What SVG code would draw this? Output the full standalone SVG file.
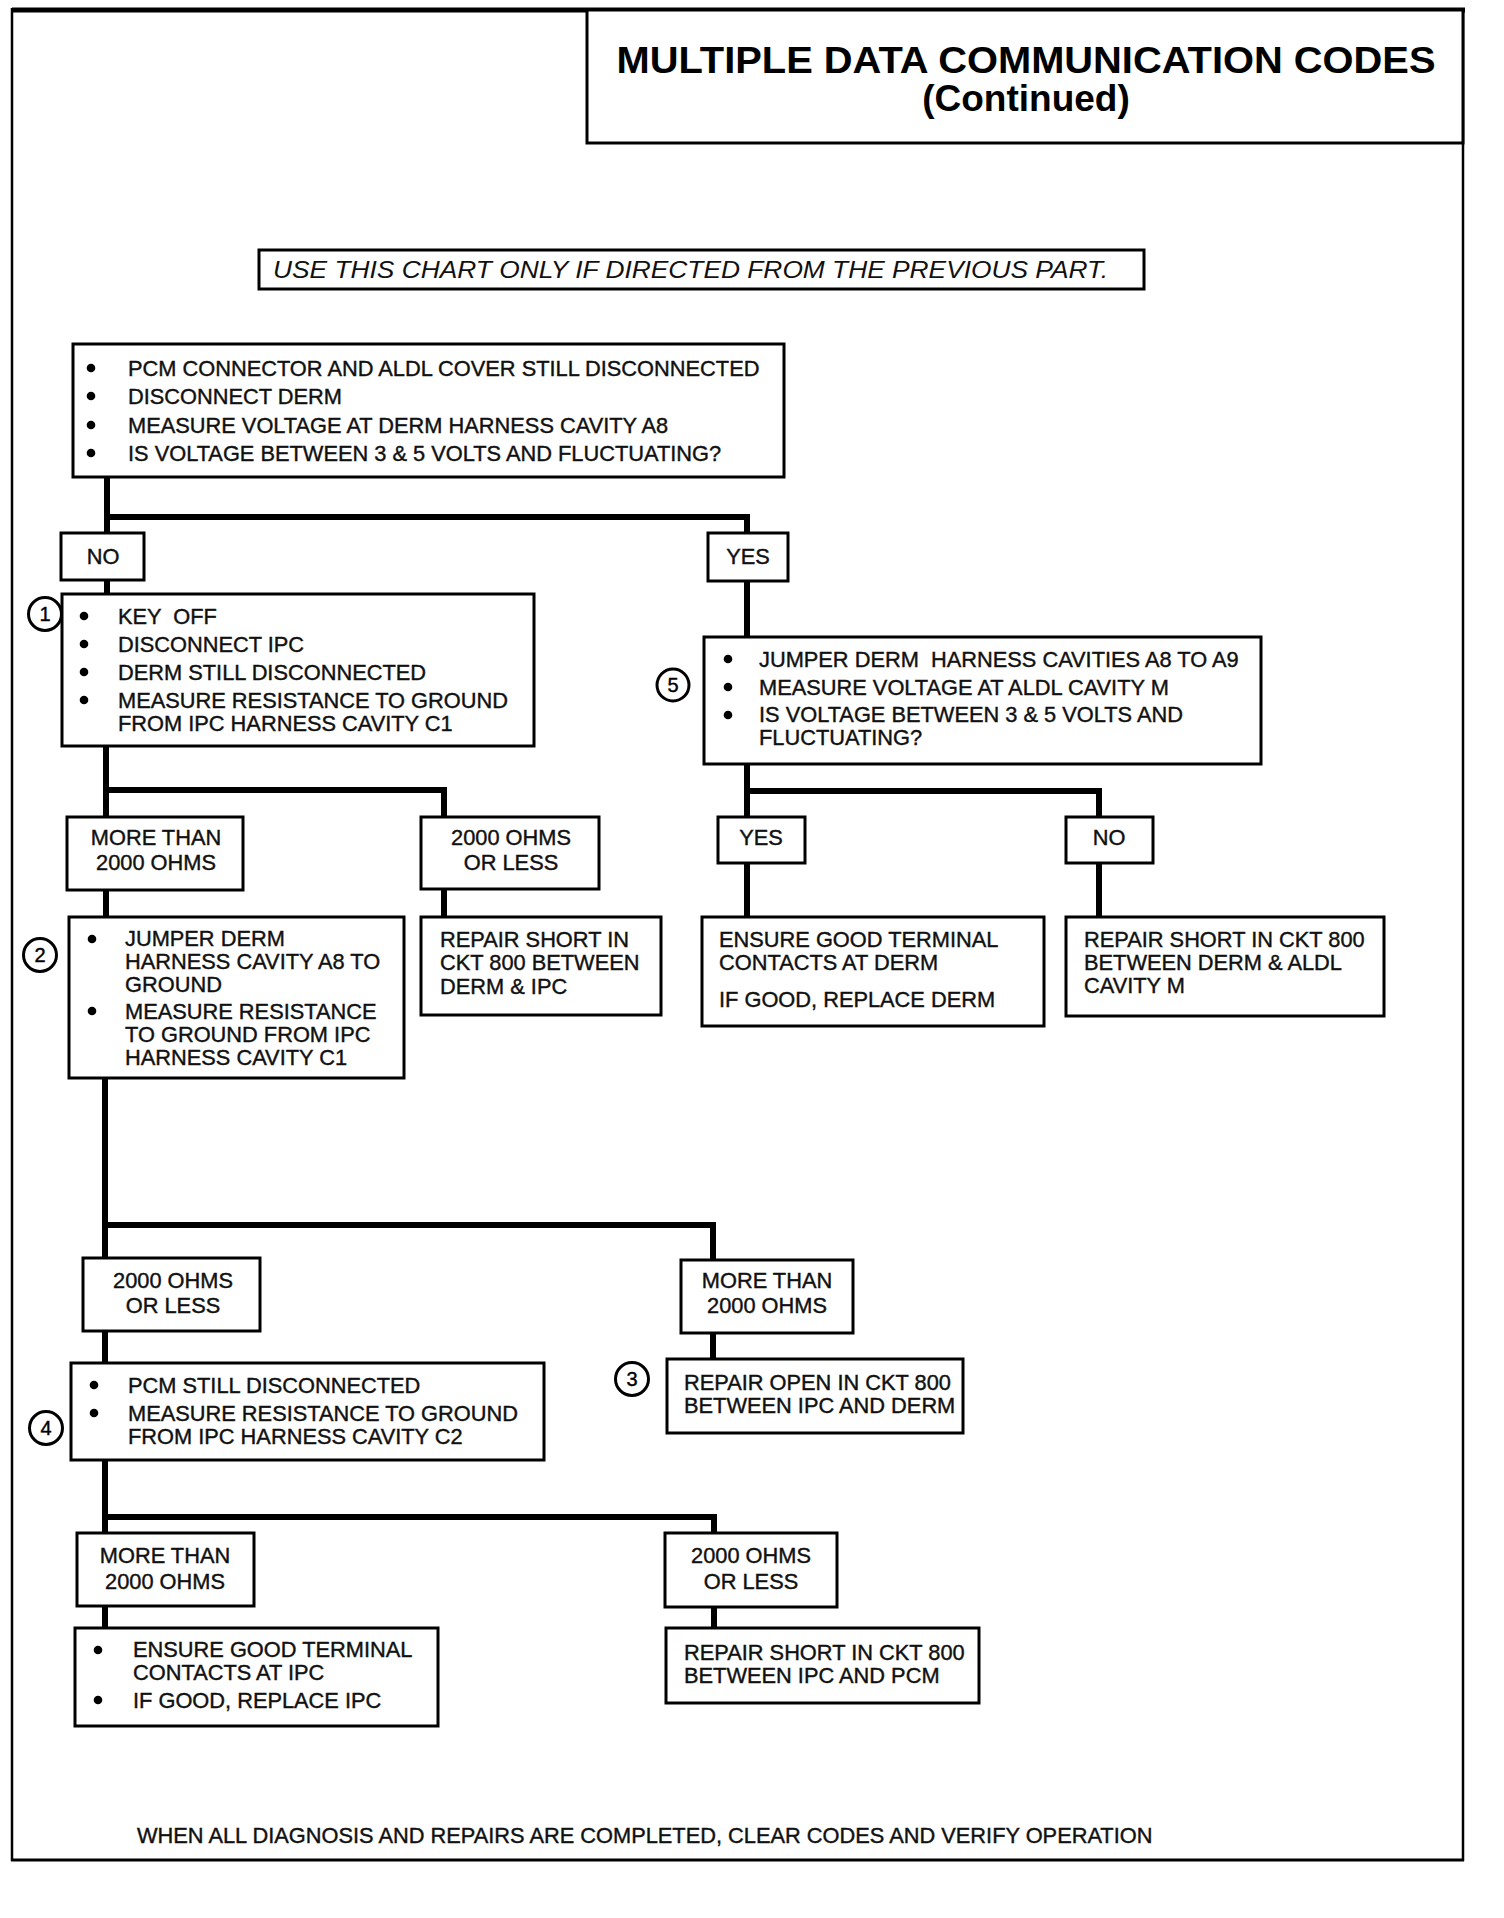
<svg xmlns="http://www.w3.org/2000/svg" width="1504" height="1918" viewBox="0 0 1504 1918">
<style>
.bg{fill:#fff}
.frame{stroke:#000;fill:none}
.box{fill:#fff;stroke:#000;stroke-width:3}
.t{font-family:"Liberation Sans",Arial,sans-serif;font-size:21.8px;fill:#111;stroke:#111;stroke-width:0.4}
.c{text-anchor:middle}
.ttl{font-family:"Liberation Sans",Arial,sans-serif;font-weight:bold;font-size:37px;fill:#000;text-anchor:middle}
.ban{font-family:"Liberation Sans",Arial,sans-serif;font-style:italic;font-size:24px;fill:#111}
.bul{fill:#000}
.num circle{fill:#fff;stroke:#000;stroke-width:3}
.num text{font-family:"Liberation Sans",Arial,sans-serif;font-size:20px;text-anchor:middle;fill:#000;stroke:#000;stroke-width:0.4}
.conn path{fill:none;stroke:#000;stroke-width:6;stroke-linejoin:miter;stroke-linecap:butt}
</style>
<rect class="bg" x="0" y="0" width="1504" height="1918"/>
<g id="frame">
<line class="frame" x1="12" y1="10" x2="1465" y2="10" stroke-width="5"/>
<line class="frame" x1="12" y1="8" x2="12" y2="1861" stroke-width="2.5"/>
<line class="frame" x1="1463" y1="8" x2="1463" y2="1861" stroke-width="2.5"/>
<line class="frame" x1="11" y1="1860" x2="1464" y2="1860" stroke-width="3"/>
</g>
<g id="title">
<rect class="box" x="587" y="10" width="876" height="133"/>
<text class="ttl" x="1026" y="73" textLength="819" lengthAdjust="spacingAndGlyphs">MULTIPLE DATA COMMUNICATION CODES</text>
<text class="ttl" x="1026" y="111">(Continued)</text>
</g>
<g id="banner">
<rect class="box" x="259" y="250" width="885" height="39"/>
<text class="ban" x="273" y="278" textLength="835" lengthAdjust="spacingAndGlyphs">USE THIS CHART ONLY IF DIRECTED FROM THE PREVIOUS PART.</text>
</g>
<g class="conn" id="connectors">
<path d="M107,477 V533 M107,517 H747 V533"/>
<path d="M107,580 V594"/>
<path d="M747,581 V637"/>
<path d="M106,746 V817 M106,790 H444 V817"/>
<path d="M106,890 V917"/>
<path d="M444,889 V917"/>
<path d="M747,764 V817 M747,791 H1099 V817"/>
<path d="M747,863 V917"/>
<path d="M1099,863 V917"/>
<path d="M105,1078 V1258 M105,1225 H713 V1260"/>
<path d="M105,1331 V1363"/>
<path d="M713,1333 V1359"/>
<path d="M105,1460 V1533 M105,1517 H714 V1533"/>
<path d="M105,1606 V1628"/>
<path d="M714,1607 V1628"/>
</g>
<g id="n-start">
<rect class="box" x="73" y="344" width="711" height="133"/>
<circle class="bul" cx="91" cy="368" r="4.3"/>
<circle class="bul" cx="91" cy="396" r="4.3"/>
<circle class="bul" cx="91" cy="425" r="4.3"/>
<circle class="bul" cx="91" cy="453" r="4.3"/>
<text class="t" x="128" y="376">PCM CONNECTOR AND ALDL COVER STILL DISCONNECTED</text>
<text class="t" x="128" y="404">DISCONNECT DERM</text>
<text class="t" x="128" y="433">MEASURE VOLTAGE AT DERM HARNESS CAVITY A8</text>
<text class="t" x="128" y="461">IS VOLTAGE BETWEEN 3 &amp; 5 VOLTS AND FLUCTUATING?</text>
</g>
<g id="l-no1"><rect class="box" x="61" y="533" width="83" height="47"/><text class="t c" x="103" y="564">NO</text></g>
<g id="l-yes1"><rect class="box" x="708" y="533" width="80" height="48"/><text class="t c" x="748" y="564">YES</text></g>
<g id="n-step1">
<rect class="box" x="62" y="594" width="472" height="152"/>
<circle class="bul" cx="84" cy="616" r="4.3"/>
<circle class="bul" cx="84" cy="644" r="4.3"/>
<circle class="bul" cx="84" cy="672" r="4.3"/>
<circle class="bul" cx="84" cy="700" r="4.3"/>
<text class="t" x="118" y="624" xml:space="preserve">KEY  OFF</text>
<text class="t" x="118" y="652">DISCONNECT IPC</text>
<text class="t" x="118" y="680">DERM STILL DISCONNECTED</text>
<text class="t" x="118" y="708">MEASURE RESISTANCE TO GROUND</text>
<text class="t" x="118" y="731">FROM IPC HARNESS CAVITY C1</text>
<g class="num"><circle cx="45" cy="614" r="16.5"/><text x="45" y="621">1</text></g>
</g>
<g id="n-step5">
<rect class="box" x="704" y="637" width="557" height="127"/>
<circle class="bul" cx="728" cy="659" r="4.3"/>
<circle class="bul" cx="728" cy="687" r="4.3"/>
<circle class="bul" cx="728" cy="715" r="4.3"/>
<text class="t" x="759" y="667" xml:space="preserve">JUMPER DERM  HARNESS CAVITIES A8 TO A9</text>
<text class="t" x="759" y="695">MEASURE VOLTAGE AT ALDL CAVITY M</text>
<text class="t" x="759" y="722">IS VOLTAGE BETWEEN 3 &amp; 5 VOLTS AND</text>
<text class="t" x="759" y="745">FLUCTUATING?</text>
<g class="num"><circle cx="673" cy="685" r="16"/><text x="673" y="692">5</text></g>
</g>
<g id="l-more1"><rect class="box" x="67" y="817" width="176" height="73"/><text class="t c" x="156" y="845">MORE THAN</text><text class="t c" x="156" y="870">2000 OHMS</text></g>
<g id="l-less1"><rect class="box" x="421" y="817" width="178" height="72"/><text class="t c" x="511" y="845">2000 OHMS</text><text class="t c" x="511" y="870">OR LESS</text></g>
<g id="l-yes2"><rect class="box" x="718" y="817" width="87" height="46"/><text class="t c" x="761" y="845">YES</text></g>
<g id="l-no2"><rect class="box" x="1066" y="817" width="87" height="46"/><text class="t c" x="1109" y="845">NO</text></g>
<g id="n-step2">
<rect class="box" x="69" y="917" width="335" height="161"/>
<circle class="bul" cx="92" cy="939" r="4.3"/>
<circle class="bul" cx="92" cy="1011" r="4.3"/>
<text class="t" x="125" y="946">JUMPER DERM</text>
<text class="t" x="125" y="969">HARNESS CAVITY A8 TO</text>
<text class="t" x="125" y="992">GROUND</text>
<text class="t" x="125" y="1019">MEASURE RESISTANCE</text>
<text class="t" x="125" y="1042">TO GROUND FROM IPC</text>
<text class="t" x="125" y="1065">HARNESS CAVITY C1</text>
<g class="num"><circle cx="40" cy="955" r="16.5"/><text x="40" y="962">2</text></g>
</g>
<g id="n-repair-derm-ipc">
<rect class="box" x="421" y="917" width="240" height="98"/>
<text class="t" x="440" y="947">REPAIR SHORT IN</text>
<text class="t" x="440" y="970">CKT 800 BETWEEN</text>
<text class="t" x="440" y="994">DERM &amp; IPC</text>
</g>
<g id="n-ensure-derm">
<rect class="box" x="702" y="917" width="342" height="109"/>
<text class="t" x="719" y="947">ENSURE GOOD TERMINAL</text>
<text class="t" x="719" y="970">CONTACTS AT DERM</text>
<text class="t" x="719" y="1007">IF GOOD, REPLACE DERM</text>
</g>
<g id="n-repair-derm-aldl">
<rect class="box" x="1066" y="917" width="318" height="99"/>
<text class="t" x="1084" y="947">REPAIR SHORT IN CKT 800</text>
<text class="t" x="1084" y="970">BETWEEN DERM &amp; ALDL</text>
<text class="t" x="1084" y="993">CAVITY M</text>
</g>
<g id="l-less2"><rect class="box" x="83" y="1258" width="177" height="73"/><text class="t c" x="173" y="1288">2000 OHMS</text><text class="t c" x="173" y="1313">OR LESS</text></g>
<g id="l-more2"><rect class="box" x="681" y="1260" width="172" height="73"/><text class="t c" x="767" y="1288">MORE THAN</text><text class="t c" x="767" y="1313">2000 OHMS</text></g>
<g id="n-step4">
<rect class="box" x="71" y="1363" width="473" height="97"/>
<circle class="bul" cx="94" cy="1385" r="4.3"/>
<circle class="bul" cx="94" cy="1413" r="4.3"/>
<text class="t" x="128" y="1393">PCM STILL DISCONNECTED</text>
<text class="t" x="128" y="1421">MEASURE RESISTANCE TO GROUND</text>
<text class="t" x="128" y="1444">FROM IPC HARNESS CAVITY C2</text>
<g class="num"><circle cx="46" cy="1428" r="16.5"/><text x="46" y="1435">4</text></g>
</g>
<g id="n-step3">
<rect class="box" x="667" y="1359" width="296" height="74"/>
<text class="t" x="684" y="1390">REPAIR OPEN IN CKT 800</text>
<text class="t" x="684" y="1413">BETWEEN IPC AND DERM</text>
<g class="num"><circle cx="632" cy="1379" r="16.5"/><text x="632" y="1386">3</text></g>
</g>
<g id="l-more3"><rect class="box" x="77" y="1533" width="177" height="73"/><text class="t c" x="165" y="1563">MORE THAN</text><text class="t c" x="165" y="1589">2000 OHMS</text></g>
<g id="l-less3"><rect class="box" x="665" y="1533" width="172" height="74"/><text class="t c" x="751" y="1563">2000 OHMS</text><text class="t c" x="751" y="1589">OR LESS</text></g>
<g id="n-ensure-ipc">
<rect class="box" x="75" y="1628" width="363" height="98"/>
<circle class="bul" cx="98" cy="1650" r="4.3"/>
<circle class="bul" cx="98" cy="1700" r="4.3"/>
<text class="t" x="133" y="1657">ENSURE GOOD TERMINAL</text>
<text class="t" x="133" y="1680">CONTACTS AT IPC</text>
<text class="t" x="133" y="1708">IF GOOD, REPLACE IPC</text>
</g>
<g id="n-repair-ipc-pcm">
<rect class="box" x="666" y="1628" width="313" height="75"/>
<text class="t" x="684" y="1660">REPAIR SHORT IN CKT 800</text>
<text class="t" x="684" y="1683">BETWEEN IPC AND PCM</text>
</g>
<g id="footer">
<text class="t" x="137" y="1843">WHEN ALL DIAGNOSIS AND REPAIRS ARE COMPLETED, CLEAR CODES AND VERIFY OPERATION</text>
</g>
</svg>
